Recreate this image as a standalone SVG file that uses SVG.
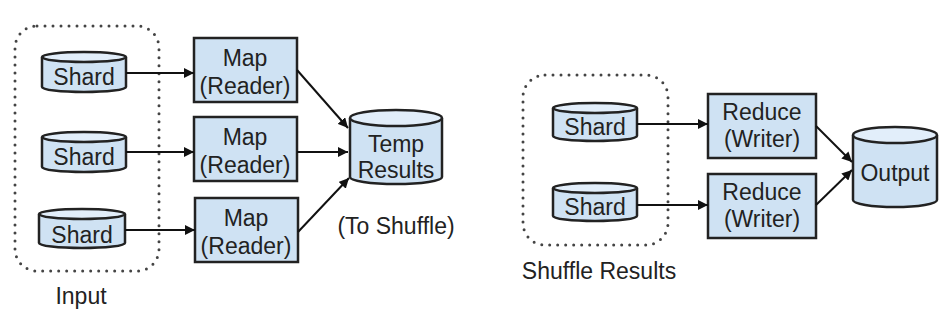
<svg xmlns="http://www.w3.org/2000/svg" width="943" height="333" viewBox="0 0 943 333">
<defs>
<marker id="ah" viewBox="0 0 10 10" refX="10" refY="5" markerWidth="10" markerHeight="10" markerUnits="userSpaceOnUse" orient="auto">
<path d="M0,0 L10,5 L0,10 z" fill="#111"/>
</marker>
<style>
text{font-family:"Liberation Sans",Arial,sans-serif;font-size:23px;fill:#222;text-anchor:middle}
.box{fill:#cfe2f3;stroke:#222;stroke-width:2.5}
.cyl{fill:#cfe2f3;stroke:#222;stroke-width:2.5}
.top{fill:#e2eefa;stroke:#222;stroke-width:2.5}
.dot{fill:none;stroke:#444;stroke-width:3;stroke-dasharray:0 8;stroke-linecap:round}
.c{fill:none;stroke:#111;stroke-width:2;marker-end:url(#ah)}
</style>
</defs>
<rect width="943" height="333" fill="#fff"/>
<g id="input-group">
<rect class="dot" x="15" y="26" width="144" height="245" rx="22"/>
<text x="81" y="304">Input</text>
</g>
<g id="shuffle-group">
<rect class="dot" x="523" y="75" width="145" height="170" rx="22"/>
<text x="599" y="279">Shuffle Results</text>
</g>
<g id="shard1">
<path class="cyl" d="M42,57 V87 A42,5 0 0 0 126,87 V57"/>
<ellipse class="top" cx="84" cy="57" rx="42" ry="5"/>
<text x="84" y="85">Shard</text>
</g>
<g id="shard2">
<path class="cyl" d="M42,137 V167 A42,5 0 0 0 126,167 V137"/>
<ellipse class="top" cx="84" cy="137" rx="42" ry="5"/>
<text x="84" y="165">Shard</text>
</g>
<g id="shard3">
<path class="cyl" d="M39,214 V243 A43,5 0 0 0 125,243 V214"/>
<ellipse class="top" cx="82" cy="214" rx="43" ry="5"/>
<text x="82" y="243">Shard</text>
</g>
<g id="map1">
<rect class="box" x="194" y="38" width="103" height="64"/>
<text x="245" y="66">Map</text>
<text x="245" y="94">(Reader)</text>
</g>
<g id="map2">
<rect class="box" x="194" y="117" width="103" height="64"/>
<text x="245" y="145">Map</text>
<text x="245" y="173">(Reader)</text>
</g>
<g id="map3">
<rect class="box" x="195" y="198" width="103" height="64"/>
<text x="246" y="226">Map</text>
<text x="246" y="254">(Reader)</text>
</g>
<g id="temp">
<path class="cyl" d="M350,118 V177 A46,7 0 0 0 442,177 V118"/>
<ellipse class="top" cx="396" cy="118" rx="46" ry="8"/>
<text x="396" y="152">Temp</text>
<text x="396" y="178">Results</text>
</g>
<g id="to-shuffle">
<text x="396" y="234">(To Shuffle)</text>
</g>
<g id="shardA">
<path class="cyl" d="M553,108 V136 A42,5 0 0 0 637,136 V108"/>
<ellipse class="top" cx="595" cy="108" rx="42" ry="5"/>
<text x="595" y="135">Shard</text>
</g>
<g id="shardB">
<path class="cyl" d="M553,188 V216 A42,5 0 0 0 637,216 V188"/>
<ellipse class="top" cx="595" cy="188" rx="42" ry="5"/>
<text x="595" y="215">Shard</text>
</g>
<g id="reduce1">
<rect class="box" x="708" y="94" width="108" height="64"/>
<text x="762" y="120">Reduce</text>
<text x="762" y="147">(Writer)</text>
</g>
<g id="reduce2">
<rect class="box" x="708" y="174" width="108" height="64"/>
<text x="762" y="200">Reduce</text>
<text x="762" y="227">(Writer)</text>
</g>
<g id="output">
<path class="cyl" d="M853,135 V200 A42,7 0 0 0 937,200 V135"/>
<ellipse class="top" cx="895" cy="135" rx="42" ry="8"/>
<text x="895" y="181">Output</text>
</g>
<g id="connectors">
<line class="c" x1="126" y1="73" x2="194" y2="73"/>
<line class="c" x1="126" y1="152" x2="194" y2="152"/>
<line class="c" x1="125" y1="230" x2="195" y2="230"/>
<line class="c" x1="297" y1="70" x2="348" y2="128"/>
<line class="c" x1="297" y1="152" x2="348" y2="152"/>
<line class="c" x1="298" y1="232" x2="349" y2="178"/>
<line class="c" x1="637" y1="124" x2="708" y2="124"/>
<line class="c" x1="637" y1="205" x2="708" y2="205"/>
<line class="c" x1="816" y1="126" x2="852" y2="162"/>
<line class="c" x1="816" y1="205" x2="852" y2="170"/>
</g>
</svg>
